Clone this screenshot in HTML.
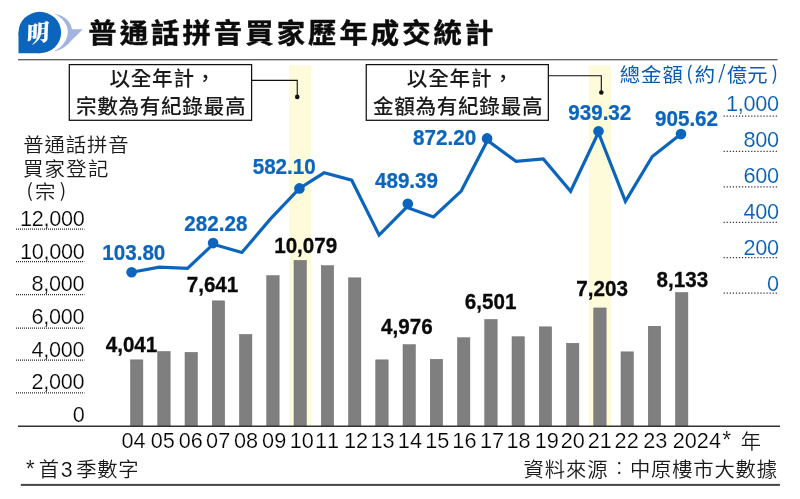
<!DOCTYPE html>
<html lang="zh-Hant"><head><meta charset="utf-8"><title>普通話拼音買家歷年成交統計</title>
<style>
html,body{margin:0;padding:0;background:#fff;}
body{width:800px;height:499px;overflow:hidden;}
svg{display:block;}
text{font-family:"Liberation Sans","Noto Sans CJK TC",sans-serif;white-space:pre;font-kerning:none;}
.t{font-weight:700;fill:#0c0c0c;stroke:#0c0c0c;stroke-width:0.45px;}
.k{fill:#1a1a1a;}
.kb{fill:#085cb4;}
.ax{fill:#000;stroke:#fff;stroke-width:0.22px;}
.axb{fill:#085cb4;stroke:#fff;stroke-width:0.15px;}
.lb{font-weight:700;fill:#0a0a0a;stroke:#0a0a0a;stroke-width:0.3px;}
.lbb{font-weight:700;fill:#0b65bd;stroke:#0b65bd;stroke-width:0.25px;}
</style></head><body>
<svg width="800" height="499" viewBox="0 0 800 499" role="img" aria-label="普通話拼音買家歷年成交統計">
<rect width="800" height="499" fill="#fff"/>
<g id="logo">
<path d="M53.6 13.5 C65.5 15.2 71 22.5 72 29.2 L82.7 29.2 C78 34 74 38 70.5 41.5 C66 47 60 50.5 53.6 51.6 C62.5 47 67.6 40 67.8 32 C67.8 24 62.5 17.5 53.6 13.5 Z" fill="#a3b4e0"/>
<ellipse cx="39.8" cy="32.5" rx="21.3" ry="20.7" fill="#0b65bd"/>
<path d="M18.5 32.5 L18.5 53.2 L39.8 53.2 Z" fill="#0b65bd"/>
<text x="0" y="0" text-anchor="middle" transform="translate(37.4 41.6) skewY(-10) skewX(-3)" style="font-family:'Liberation Serif','Noto Serif CJK TC',serif;font-weight:900;font-size:22.5px;fill:#fff;stroke:#fff;stroke-width:0.3px;">明</text>
</g>
<rect x="18" y="59.05" width="759.6" height="1.3" fill="#5a5a5a"/>
<rect x="289" y="65.4" width="22.2" height="361" fill="#fefbdb"/>
<rect x="588.8" y="65.4" width="22.3" height="361" fill="#fefbdb"/>
<line x1="16" y1="229.0" x2="84.4" y2="229.0" stroke="#2a2a2a" stroke-width="1.25" stroke-dasharray="1 1"/>
<line x1="16" y1="261.6" x2="84.4" y2="261.6" stroke="#2a2a2a" stroke-width="1.25" stroke-dasharray="1 1"/>
<line x1="16" y1="294.6" x2="84.4" y2="294.6" stroke="#2a2a2a" stroke-width="1.25" stroke-dasharray="1 1"/>
<line x1="16" y1="328.0" x2="84.4" y2="328.0" stroke="#2a2a2a" stroke-width="1.25" stroke-dasharray="1 1"/>
<line x1="16" y1="360.2" x2="84.4" y2="360.2" stroke="#2a2a2a" stroke-width="1.25" stroke-dasharray="1 1"/>
<line x1="16" y1="392.9" x2="84.4" y2="392.9" stroke="#2a2a2a" stroke-width="1.25" stroke-dasharray="1 1"/>
<line x1="723.6" y1="116.0" x2="777.4" y2="116.0" stroke="#333" stroke-width="1.25" stroke-dasharray="1.2 1.865"/>
<line x1="723.6" y1="151.4" x2="777.4" y2="151.4" stroke="#333" stroke-width="1.25" stroke-dasharray="1.2 1.865"/>
<line x1="723.6" y1="186.8" x2="777.4" y2="186.8" stroke="#333" stroke-width="1.25" stroke-dasharray="1.2 1.865"/>
<line x1="723.6" y1="222.3" x2="777.4" y2="222.3" stroke="#333" stroke-width="1.25" stroke-dasharray="1.2 1.865"/>
<line x1="723.6" y1="257.7" x2="777.4" y2="257.7" stroke="#333" stroke-width="1.25" stroke-dasharray="1.2 1.865"/>
<line x1="723.6" y1="293.1" x2="777.4" y2="293.1" stroke="#333" stroke-width="1.25" stroke-dasharray="1.2 1.865"/>
<rect x="130.50" y="359.85" width="12.4" height="66.35" fill="#7f7f7f" stroke="#6b6b6b" stroke-width="0.5"/>
<rect x="157.75" y="351.50" width="12.4" height="74.70" fill="#7f7f7f" stroke="#6b6b6b" stroke-width="0.5"/>
<rect x="185.00" y="352.35" width="12.4" height="73.85" fill="#7f7f7f" stroke="#6b6b6b" stroke-width="0.5"/>
<rect x="212.25" y="300.85" width="12.4" height="125.35" fill="#7f7f7f" stroke="#6b6b6b" stroke-width="0.5"/>
<rect x="239.50" y="334.45" width="12.4" height="91.75" fill="#7f7f7f" stroke="#6b6b6b" stroke-width="0.5"/>
<rect x="266.75" y="275.65" width="12.4" height="150.55" fill="#7f7f7f" stroke="#6b6b6b" stroke-width="0.5"/>
<rect x="294.00" y="260.35" width="12.4" height="165.85" fill="#7f7f7f" stroke="#6b6b6b" stroke-width="0.5"/>
<rect x="321.25" y="265.65" width="12.4" height="160.55" fill="#7f7f7f" stroke="#6b6b6b" stroke-width="0.5"/>
<rect x="348.50" y="277.85" width="12.4" height="148.35" fill="#7f7f7f" stroke="#6b6b6b" stroke-width="0.5"/>
<rect x="375.75" y="359.85" width="12.4" height="66.35" fill="#7f7f7f" stroke="#6b6b6b" stroke-width="0.5"/>
<rect x="403.00" y="344.65" width="12.4" height="81.55" fill="#7f7f7f" stroke="#6b6b6b" stroke-width="0.5"/>
<rect x="430.25" y="359.25" width="12.4" height="66.95" fill="#7f7f7f" stroke="#6b6b6b" stroke-width="0.5"/>
<rect x="457.50" y="337.75" width="12.4" height="88.45" fill="#7f7f7f" stroke="#6b6b6b" stroke-width="0.5"/>
<rect x="484.75" y="319.45" width="12.4" height="106.75" fill="#7f7f7f" stroke="#6b6b6b" stroke-width="0.5"/>
<rect x="512.00" y="336.75" width="12.4" height="89.45" fill="#7f7f7f" stroke="#6b6b6b" stroke-width="0.5"/>
<rect x="539.25" y="326.85" width="12.4" height="99.35" fill="#7f7f7f" stroke="#6b6b6b" stroke-width="0.5"/>
<rect x="566.50" y="343.25" width="12.4" height="82.95" fill="#7f7f7f" stroke="#6b6b6b" stroke-width="0.5"/>
<rect x="593.75" y="307.95" width="12.4" height="118.25" fill="#7f7f7f" stroke="#6b6b6b" stroke-width="0.5"/>
<rect x="621.00" y="351.85" width="12.4" height="74.35" fill="#7f7f7f" stroke="#6b6b6b" stroke-width="0.5"/>
<rect x="648.25" y="326.25" width="12.4" height="99.95" fill="#7f7f7f" stroke="#6b6b6b" stroke-width="0.5"/>
<rect x="675.50" y="292.55" width="12.4" height="133.65" fill="#7f7f7f" stroke="#6b6b6b" stroke-width="0.5"/>
<rect x="18" y="425.5" width="762" height="1.5" fill="#333"/>
<rect x="20.8" y="483.9" width="759.2" height="2" fill="#464646"/>
<polyline fill="none" stroke="#0b65bd" stroke-width="3.2" stroke-linejoin="miter" points="131.6,272.3 159.4,267.1 187.5,268.4 213.2,244.2 241.9,252.5 270.5,218.9 299.4,188.4 324.1,172.8 351.7,180.2 379.1,235.1 406.5,207.3 433.5,216.9 461.2,191.1 487.5,140.5 516.0,161.3 543.3,159.0 570.6,191.3 598.4,132.5 625.4,201.4 652.3,156.5 681.0,134.1"/>
<circle cx="131.6" cy="272.2" r="5.3" fill="#0b65bd"/>
<circle cx="213.1" cy="243.1" r="5.3" fill="#0b65bd"/>
<circle cx="299.4" cy="188.4" r="5.3" fill="#0b65bd"/>
<circle cx="407.8" cy="203.8" r="5.3" fill="#0b65bd"/>
<circle cx="487.1" cy="138.4" r="5.3" fill="#0b65bd"/>
<circle cx="598.5" cy="131.2" r="5.3" fill="#0b65bd"/>
<circle cx="681.0" cy="134.1" r="5.3" fill="#0b65bd"/>
<rect x="69.3" y="64.6" width="182.3" height="55.7" fill="#fff" stroke="#111" stroke-width="1.25"/>
<polyline fill="none" stroke="#111" stroke-width="1.1" points="251.6,80.4 297.25,80.4 297.25,96.5"/>
<circle cx="297.25" cy="96.9" r="2.3" fill="#111"/>
<rect x="366.25" y="64.6" width="182.1" height="55.7" fill="#fff" stroke="#111" stroke-width="1.25"/>
<polyline fill="none" stroke="#111" stroke-width="1.1" points="548.3,75.8 601.3,75.8 601.3,92"/>
<circle cx="601.3" cy="92.5" r="2.3" fill="#111"/>
<text class="t" transform="translate(88.29 43.05) scale(1.05 1)" style="font-size:27px;letter-spacing:2.91px;">普通話拼音買家歷年成交統計</text>
<text class="k" transform="translate(23.20 152.20) scale(1.045 1)" style="font-size:19.5px;font-weight:350;letter-spacing:0.83px;">普通話拼音</text>
<text class="k" transform="translate(22.94 176.00) scale(1.045 1)" style="font-size:19.5px;font-weight:350;letter-spacing:1.22px;">買家登記</text>
<text class="k" x="26.45" y="196.95" style="font-size:18.8px;font-weight:400;font-family:'Noto Sans CJK TC','Liberation Sans',sans-serif;">(</text>
<text class="k" transform="translate(34.94 199.40) scale(1.045 1)" style="font-size:19.5px;font-weight:350;">宗</text>
<text class="k" x="59.85" y="197.20" style="font-size:18.8px;font-weight:400;font-family:'Noto Sans CJK TC','Liberation Sans',sans-serif;">)</text>
<text class="ax" x="19.90" y="226.20" style="font-size:21.7px;letter-spacing:-0.30px;">12,000</text>
<text class="ax" x="19.90" y="258.80" style="font-size:21.7px;letter-spacing:-0.30px;">10,000</text>
<text class="ax" x="31.60" y="291.30" style="font-size:21.7px;letter-spacing:-0.30px;">8,000</text>
<text class="ax" x="31.60" y="323.90" style="font-size:21.7px;letter-spacing:-0.30px;">6,000</text>
<text class="ax" x="31.60" y="356.50" style="font-size:21.7px;letter-spacing:-0.30px;">4,000</text>
<text class="ax" x="31.60" y="389.00" style="font-size:21.7px;letter-spacing:-0.30px;">2,000</text>
<text class="ax" x="72.65" y="421.60" style="font-size:21.7px;letter-spacing:-0.30px;">0</text>
<text class="kb" transform="translate(619.72 82.10) scale(1.045 1)" style="font-size:19.5px;font-weight:400;letter-spacing:0.93px;">總金額</text>
<text class="kb" x="686.25" y="80.00" style="font-size:19.2px;font-weight:400;font-family:'Noto Sans CJK TC','Liberation Sans',sans-serif;">(</text>
<text class="kb" transform="translate(694.72 82.10) scale(1.045 1)" style="font-size:19.5px;font-weight:400;">約</text>
<text class="kb" x="717.95" y="79.10" style="font-size:19.2px;font-weight:400;font-family:'Noto Sans CJK TC','Liberation Sans',sans-serif;">/</text>
<text class="kb" transform="translate(726.72 82.10) scale(1.045 1)" style="font-size:19.5px;font-weight:400;letter-spacing:0.20px;">億元</text>
<text class="kb" x="771.45" y="80.00" style="font-size:19.2px;font-weight:400;font-family:'Noto Sans CJK TC','Liberation Sans',sans-serif;">)</text>
<text class="axb" x="725.90" y="110.80" style="font-size:21.7px;letter-spacing:-0.30px;">1,000</text>
<text class="axb" x="743.55" y="146.80" style="font-size:21.7px;letter-spacing:-0.30px;">800</text>
<text class="axb" x="743.55" y="182.80" style="font-size:21.7px;letter-spacing:-0.30px;">600</text>
<text class="axb" x="743.55" y="218.80" style="font-size:21.7px;letter-spacing:-0.30px;">400</text>
<text class="axb" x="743.55" y="254.80" style="font-size:21.7px;letter-spacing:-0.30px;">200</text>
<text class="axb" x="766.95" y="290.80" style="font-size:21.7px;letter-spacing:-0.30px;">0</text>
<text class="lbb" transform="translate(102.25 259.75) scale(0.955 1)" style="font-size:21.6px;">103.80</text>
<text class="lbb" transform="translate(184.29 231.25) scale(0.955 1)" style="font-size:21.6px;">282.28</text>
<text class="lbb" transform="translate(252.66 173.50) scale(0.955 1)" style="font-size:21.6px;">582.10</text>
<text class="lbb" transform="translate(374.97 187.50) scale(0.955 1)" style="font-size:21.6px;">489.39</text>
<text class="lbb" transform="translate(413.04 145.00) scale(0.955 1)" style="font-size:21.6px;">872.20</text>
<text class="lbb" transform="translate(568.24 120.00) scale(0.955 1)" style="font-size:21.6px;">939.32</text>
<text class="lbb" transform="translate(654.99 126.00) scale(0.955 1)" style="font-size:21.6px;">905.62</text>
<text class="lb" transform="translate(105.71 351.90) scale(0.955 1)" style="font-size:21.6px;">4,041</text>
<text class="lb" transform="translate(186.68 291.90) scale(0.955 1)" style="font-size:21.6px;">7,641</text>
<text class="lb" transform="translate(274.17 252.50) scale(0.955 1)" style="font-size:21.6px;">10,079</text>
<text class="lb" transform="translate(381.00 333.75) scale(0.955 1)" style="font-size:21.6px;">4,976</text>
<text class="lb" transform="translate(464.85 308.75) scale(0.955 1)" style="font-size:21.6px;">6,501</text>
<text class="lb" transform="translate(576.30 296.25) scale(0.955 1)" style="font-size:21.6px;">7,203</text>
<text class="lb" transform="translate(656.59 286.90) scale(0.955 1)" style="font-size:21.6px;">8,133</text>
<text class="ax" x="121.40" y="447.70" style="font-size:21.7px;">04</text>
<text class="ax" x="150.78" y="447.70" style="font-size:21.7px;">05</text>
<text class="ax" x="178.65" y="447.70" style="font-size:21.7px;">06</text>
<text class="ax" x="206.10" y="447.70" style="font-size:21.7px;">07</text>
<text class="ax" x="234.00" y="447.70" style="font-size:21.7px;">08</text>
<text class="ax" x="262.12" y="447.70" style="font-size:21.7px;">09</text>
<text class="ax" x="289.70" y="447.70" style="font-size:21.7px;">10</text>
<text class="ax" x="315.02" y="447.70" style="font-size:21.7px;">11</text>
<text class="ax" x="343.88" y="447.70" style="font-size:21.7px;">12</text>
<text class="ax" x="370.50" y="447.70" style="font-size:21.7px;">13</text>
<text class="ax" x="397.85" y="447.70" style="font-size:21.7px;">14</text>
<text class="ax" x="425.20" y="447.70" style="font-size:21.7px;">15</text>
<text class="ax" x="452.35" y="447.70" style="font-size:21.7px;">16</text>
<text class="ax" x="479.92" y="447.70" style="font-size:21.7px;">17</text>
<text class="ax" x="506.55" y="447.70" style="font-size:21.7px;">18</text>
<text class="ax" x="534.67" y="447.70" style="font-size:21.7px;">19</text>
<text class="ax" x="560.78" y="447.70" style="font-size:21.7px;">20</text>
<text class="ax" x="587.80" y="447.70" style="font-size:21.7px;">21</text>
<text class="ax" x="614.58" y="447.70" style="font-size:21.7px;">22</text>
<text class="ax" x="643.15" y="447.70" style="font-size:21.7px;">23</text>
<text class="ax" x="672.75" y="447.70" style="font-size:21.7px;">2024</text>
<text class="ax" x="722.30" y="447.60" style="font-size:23px;">*</text>
<text class="k" x="740.75" y="448.75" style="font-size:20.3px;font-weight:350;">年</text>
<text class="ax" x="25.70" y="476.60" style="font-size:23px;">*</text>
<text class="k" x="38.75" y="476.80" style="font-size:20.3px;font-weight:350;">首</text>
<text class="ax" x="60.75" y="476.60" style="font-size:21.3px;">3</text>
<text class="k" x="76.25" y="476.80" style="font-size:20.3px;font-weight:350;letter-spacing:0.72px;">季數字</text>
<text class="k" x="523.40" y="477.10" style="font-size:20.3px;font-weight:350;letter-spacing:1.02px;">資料來源</text>
<text class="k" x="610.15" y="475.45" style="font-size:18px;font-weight:300;">：</text>
<text class="k" x="629.90" y="477.10" style="font-size:20.3px;font-weight:350;letter-spacing:0.85px;">中原樓市大數據</text>
<text class="k" x="109.45" y="86.05" style="font-size:20.6px;font-weight:500;letter-spacing:0.75px;">以全年計</text>
<text class="k" x="195.00" y="85.55" style="font-size:20.6px;font-weight:500;">，</text>
<text class="k" x="76.00" y="114.15" style="font-size:20.6px;font-weight:500;letter-spacing:0.68px;">宗數為有紀錄最高</text>
<text class="k" x="406.75" y="86.05" style="font-size:20.6px;font-weight:500;letter-spacing:0.82px;">以全年計</text>
<text class="k" x="492.75" y="85.55" style="font-size:20.6px;font-weight:500;">，</text>
<text class="k" x="373.00" y="114.15" style="font-size:20.6px;font-weight:500;letter-spacing:0.68px;">金額為有紀錄最高</text>
</svg>
</body></html>
